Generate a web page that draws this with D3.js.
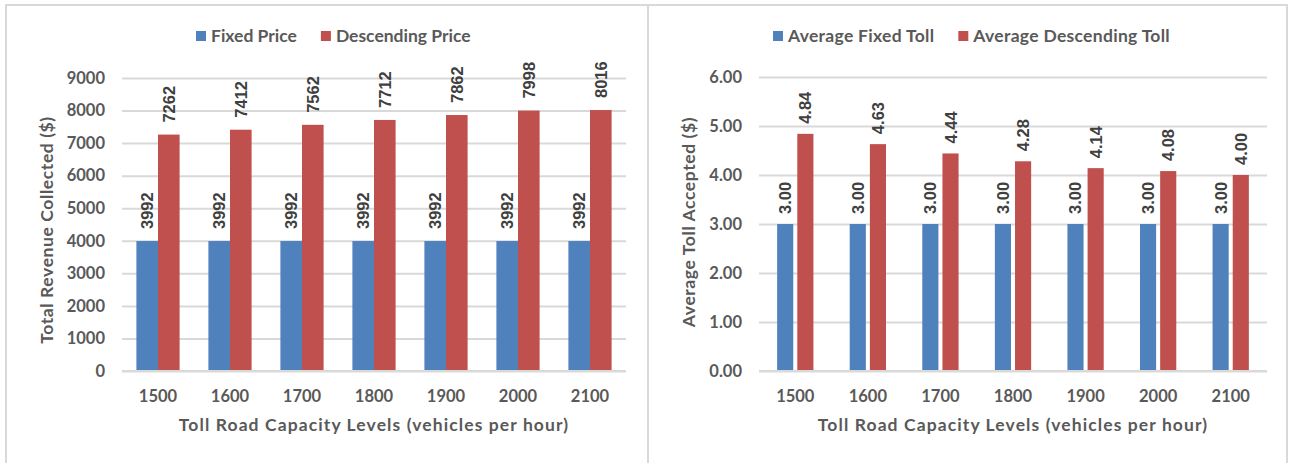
<!DOCTYPE html>
<html>
<head>
<meta charset="utf-8">
<script src="https://cdn.jsdelivr.net/npm/d3@7/dist/d3.min.js"></script>
<style>
  html, body { margin: 0; padding: 0; background: #ffffff; }
  svg { display: block; }
</style>
</head>
<body>
<svg id="chart" width="1290" height="463"></svg>
<script>
// Capacity levels on the x axis
const capacities = ["1500", "1600", "1700", "1800", "1900", "2000", "2100"];

// Left panel: total revenue collected ($)
const revenueSeries = ["Fixed Price", "Descending Price"];
const fixedRevenue = [3992, 3992, 3992, 3992, 3992, 3992, 3992];
const descendingRevenue = [7262, 7412, 7562, 7712, 7862, 7998, 8016];
const revenueTicks = [0, 1000, 2000, 3000, 4000, 5000, 6000, 7000, 8000, 9000];

// Right panel: average toll accepted ($)
const tollSeries = ["Average Fixed Toll", "Average Descending Toll"];
const fixedToll = [3.00, 3.00, 3.00, 3.00, 3.00, 3.00, 3.00];
const descendingToll = [4.84, 4.63, 4.44, 4.28, 4.14, 4.08, 4.00];
const tollTicks = [0, 1, 2, 3, 4, 5, 6];

const colors = ["#4F81BD", "#C0504D"];
const textGray = "#595959";
const labelGray = "#404040";
const gridGray = "#D9D9D9";
const fontFamily = "Lato, 'Open Sans', sans-serif";
const labelFont = "'Liberation Sans', Arial, sans-serif";

const svg = d3.select("#chart");

// Panel frames
svg.append("rect").attr("x", 6).attr("y", 5).attr("width", 642).attr("height", 470)
  .attr("fill", "none").attr("stroke", gridGray).attr("stroke-width", 2);
svg.append("rect").attr("x", 648).attr("y", 5).attr("width", 639).attr("height", 470)
  .attr("fill", "none").attr("stroke", gridGray).attr("stroke-width", 2);

function drawPanel(cfg) {
  const g = svg.append("g");
  const rows = capacities.map((c, i) => ({ cat: c, values: cfg.series.map((s, k) => cfg.values[k][i]) }));

  const x0 = d3.scaleBand().domain(capacities).range([cfg.left, cfg.right]).paddingInner(cfg.outerPad).paddingOuter(cfg.outerPad / 2);
  const x1 = d3.scaleBand().domain(d3.range(cfg.series.length)).range([0, x0.bandwidth()]).paddingInner(cfg.innerPad);
  const y = d3.scaleLinear().domain([0, d3.max(cfg.ticks)]).range([cfg.base, cfg.top]);

  // Horizontal gridlines
  const yAxis = d3.axisLeft(y).tickValues(cfg.ticks).tickFormat(cfg.tickFormat)
    .tickSize(-(cfg.right - cfg.left)).tickPadding(17);
  const ya = g.append("g").attr("transform", `translate(${cfg.left},0)`).call(yAxis);
  ya.select(".domain").remove();
  ya.selectAll(".tick line").attr("stroke", gridGray).attr("stroke-width", 2);
  ya.selectAll(".tick text").attr("fill", textGray).attr("font-family", fontFamily)
    .attr("font-weight", "bold").attr("font-size", "16.5px");

  // Bars
  const groups = g.append("g").selectAll("g").data(rows).join("g")
    .attr("transform", d => `translate(${x0(d.cat)},0)`);
  groups.selectAll("rect").data(d => d.values.map((v, k) => ({ k, v }))).join("rect")
    .attr("x", d => x1(d.k)).attr("width", x1.bandwidth())
    .attr("y", d => y(d.v)).attr("height", d => y(0) - y(d.v))
    .attr("fill", d => colors[d.k]);

  // Value labels, rotated above each bar
  groups.selectAll("text").data(d => d.values.map((v, k) => ({ k, v }))).join("text")
    .attr("transform", d => `translate(${x1(d.k) + x1.bandwidth() / 2 + 6},${y(d.v) - cfg.labelGap}) rotate(-90)`)
    .attr("text-anchor", "start")
    .attr("font-family", labelFont).attr("font-weight", "bold").attr("font-size", "16.5px")
    .attr("fill", labelGray)
    .text(d => cfg.labelFormat(d.v));

  // Baseline
  g.append("line").attr("x1", cfg.left).attr("x2", cfg.right).attr("y1", y(0)).attr("y2", y(0))
    .attr("stroke", gridGray).attr("stroke-width", 2);

  // Category axis
  const xAxis = d3.axisBottom(x0).tickSize(0).tickPadding(19);
  const xa = g.append("g").attr("transform", `translate(0,${cfg.base})`).call(xAxis);
  xa.select(".domain").remove();
  xa.selectAll(".tick text").attr("fill", textGray).attr("font-family", fontFamily)
    .attr("font-weight", "bold").attr("font-size", "16.5px");

  // Axis titles
  g.append("text").attr("x", (cfg.left + cfg.right) / 2 + cfg.xTitleShift).attr("y", 431)
    .attr("text-anchor", "middle").attr("fill", textGray).attr("font-family", fontFamily)
    .attr("font-weight", "bold").attr("font-size", "17.5px").attr("letter-spacing", "1.1px")
    .text("Toll Road Capacity Levels (vehicles per hour)");
  g.append("text").attr("transform", `translate(${cfg.yTitleX},${cfg.yTitleY}) rotate(-90)`)
    .attr("text-anchor", "middle").attr("fill", textGray).attr("font-family", fontFamily)
    .attr("font-weight", "bold").attr("font-size", "17.5px").attr("letter-spacing", "0.6px")
    .text(cfg.yTitle);

  // Legend
  const leg = g.append("g");
  let lx = cfg.legendX;
  cfg.series.forEach((s, k) => {
    leg.append("rect").attr("x", lx).attr("y", 31).attr("width", 10).attr("height", 10).attr("fill", colors[k]);
    const t = leg.append("text").attr("x", lx + 15).attr("y", 41.5)
      .attr("fill", textGray).attr("font-family", fontFamily)
      .attr("font-weight", "bold").attr("font-size", "17.5px").attr("letter-spacing", cfg.legendSpacing)
      .text(s);
    lx += 15 + t.node().getComputedTextLength() + 24;
  });
}

drawPanel({
  series: revenueSeries, values: [fixedRevenue, descendingRevenue], ticks: revenueTicks,
  tickFormat: d3.format("d"), labelFormat: d3.format("d"),
  left: 122, right: 626, top: 78, base: 371,
  outerPad: 0.4, innerPad: 0, labelGap: 12,
  legendX: 196, legendSpacing: "0px",
  yTitle: "Total Revenue Collected ($)", yTitleX: 53, yTitleY: 230, xTitleShift: 0
});

drawPanel({
  series: tollSeries, values: [fixedToll, descendingToll], ticks: tollTicks,
  tickFormat: d3.format(".2f"), labelFormat: d3.format(".2f"),
  left: 759, right: 1267, top: 77, base: 371,
  outerPad: 0.5, innerPad: 0.2, labelGap: 10,
  legendX: 773, legendSpacing: "0.3px",
  yTitle: "Average Toll Accepted ($)", yTitleX: 695, yTitleY: 222, xTitleShift: 0
});
</script>
</body>
</html>
